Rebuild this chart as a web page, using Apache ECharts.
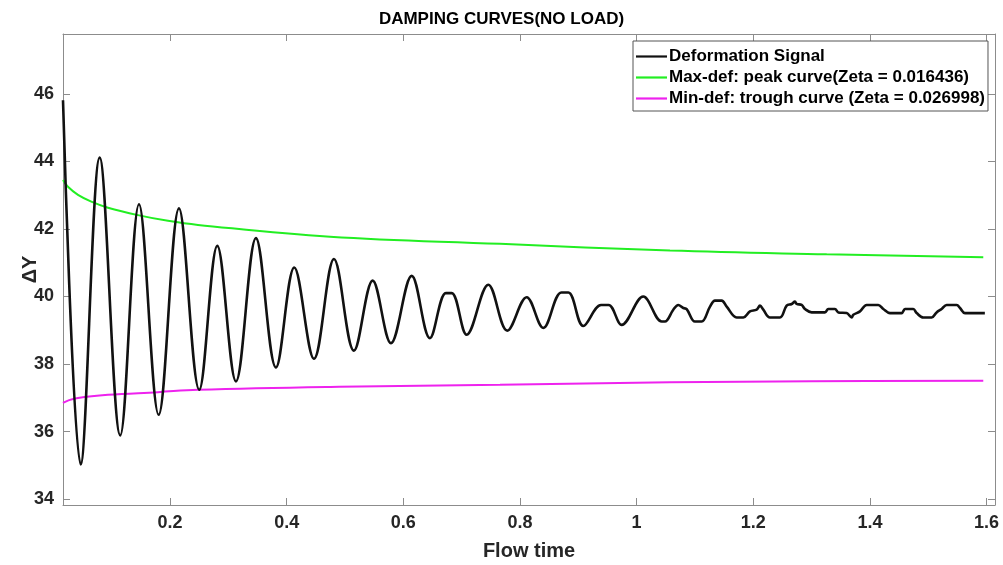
<!DOCTYPE html>
<html>
<head>
<meta charset="utf-8">
<script src="https://cdn.jsdelivr.net/npm/echarts@6/dist/echarts.min.js"></script>
<style>
html,body{margin:0;padding:0;background:#fff;}
#chart{width:1003px;height:565px;}
</style>
</head>
<body>
<div id="chart"></div>
<script>
// ---- Data ----
var signalTime = [
  0.0166, 0.0469, 0.0795, 0.1148, 0.1469, 0.1806, 0.2154, 0.2502, 0.2811, 0.3131,
  0.3474, 0.3817, 0.4131, 0.4469, 0.4812, 0.5154, 0.5475, 0.5789, 0.6144, 0.6457,
  0.6730, 0.6830, 0.7087, 0.7457, 0.7783, 0.8115, 0.8400, 0.8710, 0.8830, 0.9086,
  0.9390, 0.9520, 0.9744, 1.0114, 1.0430, 1.0486, 1.0629, 1.0714, 1.0800, 1.0858,
  1.1000, 1.1115, 1.1258, 1.1343, 1.1458, 1.1544, 1.1715, 1.1829, 1.1943, 1.2058,
  1.2115, 1.2172, 1.2286, 1.2458, 1.2572, 1.2658, 1.2715, 1.2744, 1.2829, 1.2886,
  1.3001, 1.3229, 1.3286, 1.3400, 1.3458, 1.3601, 1.3687, 1.3715, 1.3829, 1.3944,
  1.4143, 1.4229, 1.4343, 1.4544, 1.4601, 1.4743, 1.4801, 1.4915, 1.5058, 1.5143,
  1.5229, 1.5315, 1.5487, 1.5544, 1.5629, 1.5970
];
var signalValue = [
  45.81, 35.03, 44.11, 35.89, 42.73, 36.50, 42.61, 37.24, 41.50, 37.49,
  41.73, 37.90, 40.86, 38.16, 41.11, 38.40, 40.47, 38.62, 40.61, 38.77,
  40.10, 40.10, 38.87, 40.35, 38.99, 39.98, 39.07, 40.12, 40.12, 39.13,
  39.75, 39.75, 39.16, 40.00, 39.26, 39.26, 39.61, 39.75, 39.66, 39.63,
  39.26, 39.26, 39.70, 39.88, 39.88, 39.70, 39.38, 39.38, 39.56, 39.61,
  39.73, 39.61, 39.38, 39.38, 39.73, 39.78, 39.85, 39.78, 39.75, 39.63,
  39.53, 39.53, 39.63, 39.63, 39.53, 39.51, 39.38, 39.46, 39.56, 39.75,
  39.75, 39.63, 39.51, 39.51, 39.63, 39.63, 39.51, 39.38, 39.38, 39.53,
  39.63, 39.75, 39.75, 39.66, 39.51, 39.51
];
var peakTime  = [0.0166, 0.0251, 0.0423, 0.0651, 0.0937, 0.1451, 0.1966, 0.2480, 0.4743, 0.7658, 1.0572, 1.3258, 1.5943];
var peakValue = [43.45, 43.25, 43.01, 42.81, 42.63, 42.41, 42.24, 42.12, 41.77, 41.56, 41.36, 41.25, 41.16];
var troughTime  = [0.0166, 0.0251, 0.0423, 0.0937, 0.1794, 0.2480, 0.4900, 0.7658, 1.0572, 1.3000, 1.5943];
var troughValue = [36.85, 36.92, 37.00, 37.09, 37.17, 37.24, 37.33, 37.39, 37.46, 37.49, 37.51];
var xTicks = [0.2, 0.4, 0.6, 0.8, 1, 1.2, 1.4, 1.6];
var yTicks = [34, 36, 38, 40, 42, 44, 46];
var seriesNames = [
  'Deformation Signal',
  'Max-def: peak curve(Zeta = 0.016436)',
  'Min-def: trough curve (Zeta = 0.026998)'
];
// ---------------------------------------------

function zip(a, b) { return a.map(function (v, i) { return [v, b[i]]; }); }

var X_MIN = 0.0166, X_MAX = 1.6144, Y_MIN = 33.83, Y_MAX = 47.77;
var axisCol = '#8c8c8c';
var txtCol = '#262626';
var FONT = '"Liberation Sans", Arial, sans-serif';
var LINE_ICON = 'path://M0,0 L31,0 L31,2.2 L0,2.2 Z';

function xAx(pos, labels) {
  return {
    type: 'value', position: pos, min: X_MIN, max: X_MAX,
    axisLine: { show: true, onZero: false, lineStyle: { color: axisCol, width: 1 } },
    axisTick: { show: true, inside: true, length: 7, customValues: xTicks, lineStyle: { color: axisCol } },
    axisLabel: { show: labels, customValues: xTicks, margin: 9, color: txtCol, fontFamily: FONT, fontWeight: 'bold', fontSize: 18 },
    splitLine: { show: false },
    name: labels ? 'Flow time' : '', nameLocation: 'middle', nameGap: 36, nameMoveOverlap: false,
    nameTextStyle: { color: txtCol, fontFamily: FONT, fontWeight: 'bold', fontSize: 20 }
  };
}
function yAx(pos, labels) {
  return {
    type: 'value', position: pos, min: Y_MIN, max: Y_MAX,
    axisLine: { show: true, onZero: false, lineStyle: { color: axisCol, width: 1 } },
    axisTick: { show: true, inside: true, length: 7, customValues: yTicks, lineStyle: { color: axisCol } },
    axisLabel: { show: labels, customValues: yTicks, margin: 9, color: txtCol, fontFamily: FONT, fontWeight: 'bold', fontSize: 18 },
    splitLine: { show: false },
    name: labels ? 'ΔY' : '', nameLocation: 'middle', nameGap: 23, nameRotate: 90, nameMoveOverlap: false,
    nameTextStyle: { color: txtCol, fontFamily: FONT, fontWeight: 'bold', fontSize: 20 }
  };
}

var chart = echarts.init(document.getElementById('chart'), null, { renderer: 'canvas' });
chart.setOption({
  animation: false,
  backgroundColor: '#ffffff',
  title: {
    text: 'DAMPING CURVES(NO LOAD)', left: 'center', top: 6,
    textStyle: { color: '#000', fontFamily: FONT, fontWeight: 'bold', fontSize: 17 }
  },
  grid: { left: 63, right: 8, top: 34, bottom: 60, containLabel: false, outerBoundsMode: 'none' },
  legend: {
    orient: 'vertical', left: 633, top: 41,
    backgroundColor: '#fff', borderColor: '#555', borderWidth: 1,
    padding: [7, 3, 4, 3], itemWidth: 31, itemHeight: 14, itemGap: 4,
    icon: LINE_ICON,
    textStyle: { color: '#000', fontFamily: FONT, fontWeight: 'bold', fontSize: 17, padding: [0, 0, 0, -3] },
    data: seriesNames
  },
  xAxis: [xAx('bottom', true), xAx('top', false)],
  yAxis: [yAx('left', true), yAx('right', false)],
  series: [
    { name: seriesNames[0], type: 'line', data: zip(signalTime, signalValue), symbol: 'none', smooth: 0.36,
      lineStyle: { color: '#111', width: 2.6 }, itemStyle: { color: '#111' }, z: 3 },
    { name: seriesNames[1], type: 'line', data: zip(peakTime, peakValue), symbol: 'none', smooth: 0.4,
      lineStyle: { color: '#22ee22', width: 2 }, itemStyle: { color: '#22ee22' }, z: 2 },
    { name: seriesNames[2], type: 'line', data: zip(troughTime, troughValue), symbol: 'none', smooth: 0.4,
      lineStyle: { color: '#ee22ee', width: 2 }, itemStyle: { color: '#ee22ee' }, z: 2 }
  ]
});
</script>
</body>
</html>
